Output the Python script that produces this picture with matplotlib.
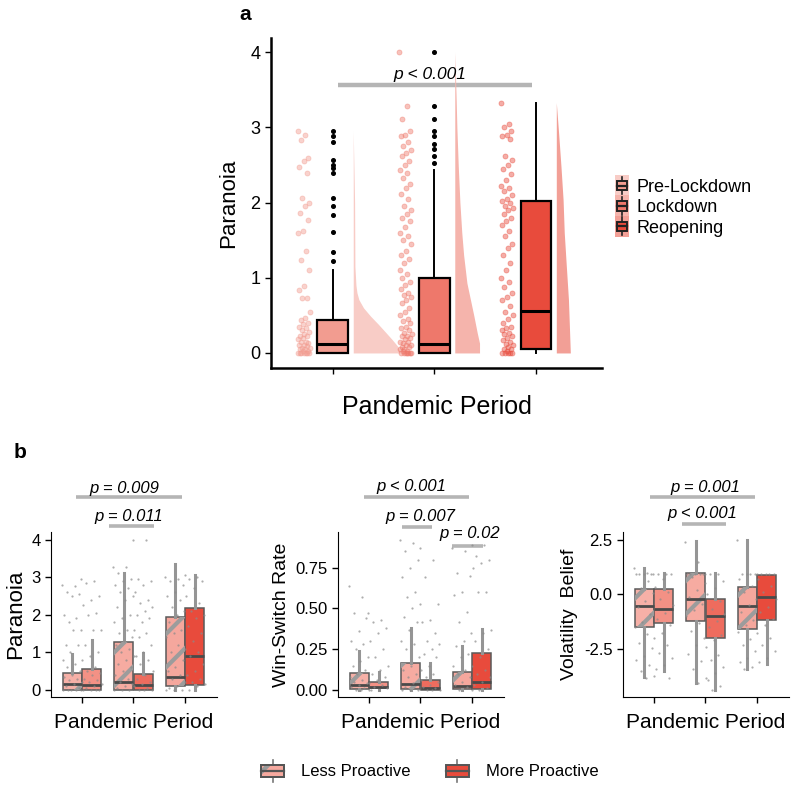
import matplotlib
matplotlib.use('Agg')
import matplotlib.pyplot as plt
import numpy as np
from matplotlib.patches import Rectangle, Patch
from matplotlib.lines import Line2D
from matplotlib.legend_handler import HandlerBase

plt.rcParams['font.family'] = ['Liberation Sans', 'DejaVu Sans']
plt.rcParams['hatch.linewidth'] = 3.0

periods = ['Pre-Lockdown', 'Lockdown', 'Reopening']
groups = ['Less Proactive', 'More Proactive']

# ---- panel a: paranoia by period ----
a_q1 = [0.0, 0.0, 0.05]
a_med = [0.12, 0.12, 0.56]
a_q3 = [0.44, 1.0, 2.02]
a_wlo = [0.0, 0.0, 0.0]
a_whi = [1.11, 2.44, 3.33]
a_out = [
    [1.22, 1.34, 1.61, 1.84, 1.96, 2.06, 2.39, 2.46, 2.5, 2.57, 2.81, 2.88, 2.95],
    [2.53, 2.62, 2.71, 2.78, 2.88, 2.95, 3.11, 3.28, 4.0],
    [],
]
a_pts = [
    [2.95, 2.9, 2.83, 2.6, 2.55, 2.48, 2.4, 2.06, 2.0, 1.95, 1.86, 1.77, 1.62, 1.6, 1.35,
     1.24, 1.1, 0.89, 0.84, 0.73, 0.73, 0.55, 0.47, 0.44, 0.4, 0.38, 0.35, 0.33, 0.3, 0.28,
     0.25, 0.22, 0.22, 0.2, 0.18, 0.15, 0.15, 0.13, 0.11, 0.11, 0.09, 0.07, 0.07, 0.05, 0.05,
     0.03, 0.03, 0.0, 0.0, 0.0, 0.0, 0.0, 0.0, 0.0],
    [4.0, 3.28, 3.11, 2.95, 2.9, 2.88, 2.8, 2.75, 2.7, 2.66, 2.62, 2.55, 2.5, 2.44, 2.4,
     2.33, 2.25, 2.2, 2.12, 2.05, 1.95, 1.9, 1.85, 1.8, 1.75, 1.68, 1.6, 1.55, 1.5, 1.45,
     1.35, 1.3, 1.25, 1.2, 1.1, 1.05, 1.0, 0.95, 0.9, 0.85, 0.8, 0.77, 0.75, 0.7, 0.66,
     0.6, 0.55, 0.5, 0.45, 0.42, 0.4, 0.35, 0.33, 0.3, 0.27, 0.25, 0.22, 0.22, 0.2, 0.18,
     0.15, 0.15, 0.13, 0.11, 0.1, 0.08, 0.08, 0.05, 0.05, 0.03, 0.03, 0.0, 0.0, 0.0, 0.0,
     0.0, 0.0, 0.0],
    [3.33, 3.05, 3.0, 2.95, 2.9, 2.88, 2.85, 2.62, 2.57, 2.5, 2.45, 2.38, 2.3, 2.22, 2.2,
     2.15, 2.1, 2.05, 2.02, 2.0, 1.95, 1.93, 1.9, 1.85, 1.8, 1.75, 1.7, 1.62, 1.55, 1.45,
     1.4, 1.3, 1.2, 1.1, 1.0, 0.95, 0.88, 0.8, 0.75, 0.7, 0.62, 0.55, 0.5, 0.45, 0.4,
     0.35, 0.33, 0.3, 0.27, 0.25, 0.22, 0.2, 0.17, 0.15, 0.12, 0.1, 0.08, 0.05, 0.05, 0.03,
     0.0, 0.0, 0.0, 0.0, 0.0],
]
# half-violin densities (relative), read at these paranoia levels
a_dens_y = [
    [0, 0.04, 0.09, 0.18, 0.27, 0.38, 0.49, 0.6, 0.71, 0.8, 0.9, 1.15, 2.0, 2.95],
    [0, 0.13, 0.27, 0.49, 0.93, 1.3, 1.6, 2.0, 2.48, 3.0, 3.37, 4.0],
    [0, 0.27, 0.71, 1.15, 1.6, 2.04, 2.48, 2.92, 3.33],
]
a_dens = [
    [1.0, 0.985, 0.95, 0.83, 0.70, 0.54, 0.37, 0.22, 0.12, 0.08, 0.058, 0.036, 0.029, 0.0],
    [0.53, 0.53, 0.48, 0.41, 0.26, 0.19, 0.15, 0.11, 0.075, 0.045, 0.03, 0.0],
    [0.30, 0.285, 0.26, 0.215, 0.17, 0.145, 0.10, 0.05, 0.0],
]

# ---- panel b: order = pre less, pre more, lock less, lock more, reop less, reop more ----
par_q1 = [0.0, 0.0, 0.0, 0.0, 0.09, 0.13]
par_med = [0.16, 0.12, 0.22, 0.13, 0.35, 0.9]
par_q3 = [0.44, 0.56, 1.28, 0.42, 1.95, 2.19]
par_lo = [0.0, 0.0, 0.0, 0.0, 0.0, 0.0]
par_hi = [0.95, 1.33, 3.12, 0.99, 3.35, 3.05]
par_pts = [
    [2.8, 2.75, 2.6, 2.55, 2.5, 2.0, 1.9, 1.8, 1.6, 1.6, 1.2, 1.2, 1.0, 0.8, 0.7, 0.6,
     0.5, 0.4, 0.35, 0.3, 0.25, 0.2, 0.15, 0.1, 0.05, 0, 0, 0, 0, 0],
    [2.95, 2.9, 2.85, 2.5, 2.4, 2.25, 2.05, 2.0, 1.6, 1.6, 1.2, 1.0, 0.9, 0.8, 0.6, 0.5,
     0.45, 0.4, 0.3, 0.25, 0.2, 0.15, 0.1, 0.05, 0, 0, 0, 0],
    [3.27, 3.27, 3.1, 2.95, 2.9, 2.8, 2.7, 2.6, 2.5, 2.4, 2.2, 2.0, 1.9, 1.8, 1.6, 1.5,
     1.4, 1.3, 1.2, 1.1, 1.0, 0.9, 0.8, 0.7, 0.6, 0.5, 0.4, 0.3, 0.2, 0.15, 0.1, 0.05, 0, 0, 0],
    [4.0, 4.0, 2.95, 2.9, 2.8, 2.6, 2.4, 2.3, 2.2, 2.1, 2.0, 1.9, 1.8, 1.6, 1.5, 1.4, 1.2,
     1.0, 0.9, 0.8, 0.7, 0.5, 0.4, 0.3, 0.2, 0.15, 0.1, 0.05, 0, 0, 0],
    [3.0, 2.95, 2.9, 2.8, 2.6, 2.5, 2.4, 2.2, 2.1, 2.0, 1.8, 1.6, 1.5, 1.4, 1.2, 1.0, 0.8,
     0.6, 0.5, 0.4, 0.3, 0.2, 0.1, 0.05, 0, 0, 0],
    [3.05, 3.0, 2.95, 2.9, 2.7, 2.5, 2.3, 2.1, 2.0, 1.9, 1.7, 1.5, 1.3, 1.1, 1.0, 0.9, 0.7,
     0.5, 0.4, 0.3, 0.2, 0.15, 0.1, 0],
]

win_q1 = [0.004, 0.01, 0.004, 0.002, 0.004, 0.004]
win_med = [0.03, 0.02, 0.037, 0.014, 0.024, 0.051]
win_q3 = [0.106, 0.051, 0.163, 0.061, 0.112, 0.229]
win_lo = [0.0, 0.0, 0.0, 0.0, 0.0, 0.0]
win_hi = [0.24, 0.11, 0.378, 0.163, 0.27, 0.373]
win_pts = [
    [0.64, 0.57, 0.47, 0.44, 0.36, 0.3, 0.28, 0.25, 0.2, 0.18, 0.15, 0.12, 0.1, 0.08, 0.06,
     0.05, 0.04, 0.03, 0.02, 0.01, 0, 0, 0],
    [0.47, 0.43, 0.42, 0.38, 0.35, 0.3, 0.25, 0.2, 0.15, 0.12, 0.1, 0.08, 0.06, 0.04, 0.03,
     0.02, 0.01, 0, 0],
    [0.92, 0.9, 0.85, 0.8, 0.75, 0.69, 0.6, 0.57, 0.53, 0.5, 0.45, 0.42, 0.37, 0.3, 0.28,
     0.25, 0.2, 0.15, 0.12, 0.1, 0.08, 0.06, 0.04, 0.02, 0, 0, 0],
    [0.87, 0.8, 0.69, 0.53, 0.43, 0.42, 0.35, 0.3, 0.28, 0.25, 0.22, 0.2, 0.15, 0.12, 0.1,
     0.08, 0.05, 0.03, 0.02, 0.01, 0, 0, 0],
    [0.87, 0.85, 0.72, 0.7, 0.6, 0.58, 0.48, 0.42, 0.35, 0.3, 0.27, 0.22, 0.2, 0.15, 0.12,
     0.1, 0.08, 0.05, 0.03, 0.02, 0, 0],
    [0.89, 0.89, 0.82, 0.8, 0.78, 0.75, 0.6, 0.6, 0.37, 0.35, 0.3, 0.25, 0.2, 0.15, 0.12,
     0.1, 0.08, 0.05, 0.03, 0.01, 0],
]

vol_q1 = [-1.49, -1.31, -1.19, -1.98, -1.59, -1.16]
vol_med = [-0.52, -0.67, -0.2, -0.98, -0.52, -0.12]
vol_q3 = [0.26, 0.26, 1.0, -0.2, 0.34, 0.9]
vol_lo = [-3.75, -3.49, -4.05, -4.36, -3.41, -3.17]
vol_hi = [1.2, 0.98, 2.42, 0.98, 2.5, 0.9]
vol_pts = [
    [1.2, 1.0, 0.95, 0.95, 0.95, 0.95, 0.6, 0.3, 0.05, -0.3, -0.55, -0.9, -1.25, -1.5,
     -1.8, -2.2, -2.45, -2.8, -3.0, -3.2, -3.5, -3.7, -3.8],
    [0.95, 0.95, 0.95, 0.95, 0.7, 0.35, 0.1, -0.2, -0.5, -0.85, -1.1, -1.4, -1.75, -2.0,
     -2.3, -2.65, -2.9, -3.2, -3.4, -3.8],
    [2.4, 1.5, 0.95, 0.95, 0.95, 0.95, 0.95, 0.8, 0.5, 0.2, -0.1, -0.45, -0.7, -1.0, -1.3,
     -1.65, -2.0, -2.3, -2.7, -3.05, -3.4, -3.8, -4.05],
    [0.95, 0.95, 0.95, 0.6, 0.3, 0.0, -0.3, -0.65, -0.9, -1.2, -1.5, -1.85, -2.1, -2.4,
     -2.75, -3.0, -3.3, -3.6, -3.9, -4.2, -4.35],
    [2.5, 0.95, 0.95, 0.95, 0.95, 0.7, 0.4, 0.1, -0.2, -0.5, -0.8, -1.15, -1.4, -1.7,
     -2.05, -2.3, -2.6, -2.9, -3.1, -3.3, -3.4],
    [0.95, 0.95, 0.95, 0.95, 0.95, 0.7, 0.4, 0.1, -0.2, -0.55, -0.8, -1.1, -1.4, -1.75,
     -2.0, -2.3, -2.6, -2.9, -3.1],
]

sig_par = [(0.88, 2.94, 5.12, 1.82, 5.37, 'p = 0.009'), (1.52, 2.40, 4.37, 1.91, 4.6, 'p = 0.011')]
sig_win = [(0.90, 2.94, 1.184, 1.83, 1.245, 'p < 0.001'), (1.64, 2.22, 1.0, 2.0, 1.067, 'p = 0.007'),
           (2.61, 3.21, 0.883, 2.96, 0.957, 'p = 0.02')]
sig_vol = [(0.92, 2.96, 4.45, 1.99, 4.9, 'p = 0.001'), (1.54, 2.40, 3.22, 1.93, 3.68, 'p < 0.001')]

# colours
a_box_col = ['#F29C90', '#EE786B', '#E84B3C']
a_vio_col = ['#F8CCC6', '#F5B4AC', '#F29F96']
less_col = ['#F6B0A7', '#F6ABA1', '#F5A79D']
more_col = ['#F39185', '#EE6C5E', '#E84B3C']
bar_col = '#B5B5B5'

fig = plt.figure(figsize=(7.93, 7.88), dpi=100)


def jitter(n, half):
    # deterministic spread (golden ratio sequence)
    return ((np.arange(n) * 0.6180339887) % 1 - 0.5) * 2 * half


def classic(ax):
    for s in ['top', 'right']:
        ax.spines[s].set_visible(False)
    ax.tick_params(axis='both', direction='out', length=4, width=1, colors='black', labelsize=12)
    ax.set_xticklabels([])


# ---------- panel a ----------
axa = fig.add_axes([271 / 793, 1 - 368 / 788, 331 / 793, 330 / 788])
centers = np.arange(1, 4)
for i in range(3):
    c = centers[i]
    axa.fill_betweenx(a_dens_y[i], c + 0.2, c + 0.2 + np.array(a_dens[i]) * 0.46,
                      color=a_vio_col[i], lw=0, zorder=1)
    y = np.array(a_pts[i])
    axa.plot(c - 0.285 + jitter(len(y), 0.06), y, 'o', ms=3.6, mfc=a_box_col[i], mec=a_box_col[i],
             alpha=0.45, mew=0.6, zorder=2)
stats = []
for i in range(3):
    stats.append(dict(med=a_med[i], q1=a_q1[i], q3=a_q3[i], whislo=a_wlo[i], whishi=a_whi[i],
                      fliers=a_out[i]))
bp = axa.bxp(stats, positions=centers, widths=0.305, patch_artist=True, showcaps=False,
             boxprops=dict(edgecolor='black', linewidth=1.6),
             medianprops=dict(color='black', linewidth=2.2),
             whiskerprops=dict(color='black', linewidth=1.4),
             flierprops=dict(marker='o', markersize=2.6, markerfacecolor='black',
                             markeredgecolor='black'), zorder=3)
for patch, col in zip(bp['boxes'], a_box_col):
    patch.set_facecolor(col)
axa.plot([1.05, 2.96], [3.57, 3.57], color=bar_col, lw=3.2, solid_capstyle='butt', zorder=0.5)
axa.text(1.955, 3.71, 'p < 0.001', style='italic', fontsize=12.5, ha='center', va='center')
axa.set_xlim(0.39, 3.65)
axa.set_ylim(-0.2, 4.19)
axa.set_yticks([0, 1, 2, 3, 4])
axa.set_xticks(centers)
classic(axa)
axa.tick_params(labelsize=13)
for s in ['left', 'bottom']:
    axa.spines[s].set_linewidth(1.8)
axa.set_ylabel('Paranoia', fontsize=16, labelpad=8)
axa.set_xlabel('Pandemic Period', fontsize=18, labelpad=12)


class BoxKey(HandlerBase):
    def __init__(self, face, edge, whisk, hatch=None, bg=None):
        super().__init__()
        self.face, self.edge, self.whisk, self.hatch, self.bg = face, edge, whisk, hatch, bg

    def create_artists(self, legend, orig_handle, xdescent, ydescent, width, height, fontsize, trans):
        arts = []
        x0, y0 = -xdescent, -ydescent
        if self.bg is not None:
            arts.append(Rectangle((x0, y0 - 0.15 * height), width, height * 1.3, facecolor=self.bg,
                                  lw=0, transform=trans))
        bx, bw = x0 + 0.12 * width, 0.76 * width
        by, bh = y0 + 0.2 * height, 0.6 * height
        cx = x0 + width / 2
        arts.append(Line2D([cx, cx], [y0 - 0.05 * height, y0 + 1.05 * height], color=self.whisk,
                           lw=1.2, transform=trans))
        arts.append(Rectangle((bx, by), bw, bh, facecolor=self.face, edgecolor=self.edge, lw=1.4,
                              transform=trans))
        if self.hatch:
            arts.append(Rectangle((bx, by), bw, bh, facecolor='none', edgecolor='#9A9A9A', lw=0,
                                  hatch=self.hatch, transform=trans))
            arts.append(Rectangle((bx, by), bw, bh, facecolor='none', edgecolor=self.edge, lw=1.4,
                                  transform=trans))
        arts.append(Line2D([bx, bx + bw], [y0 + height / 2] * 2, color=self.edge, lw=1.6,
                           transform=trans))
        return arts


ha = [Patch(label=p) for p in periods]
hmap = {h: BoxKey(a_box_col[i], '#222222', '#222222', bg=a_vio_col[i]) for i, h in enumerate(ha)}
fig.legend(handles=ha, labels=periods, handler_map=hmap, loc='center left',
           bbox_to_anchor=(606 / 793, 1 - 207 / 788), frameon=False, fontsize=13,
           handlelength=0.75, handleheight=1.0, handletextpad=0.45, labelspacing=0.12,
           borderpad=0)

# ---------- panel b ----------
def panel_b(left, q1, med, q3, lo, hi, pts, sig, ylim, yticks, ylabels, ylab, ylab_size):
    ax = fig.add_axes([left / 793, 1 - 697 / 788, 166 / 793, 165 / 788])
    pos = []
    for g in range(3):
        pos += [g + 1 - 0.19, g + 1 + 0.19]
    for k in range(6):
        y = np.array(pts[k])
        ax.plot(pos[k] + jitter(len(y), 0.2), y, 'o', ms=1.6, color='#8A8A8A', alpha=0.7,
                mew=0, zorder=4)
    st = [dict(med=med[k], q1=q1[k], q3=q3[k], whislo=lo[k], whishi=hi[k], fliers=[])
          for k in range(6)]
    bp = ax.bxp(st, positions=pos, widths=0.37, patch_artist=True, showcaps=False,
                showfliers=False,
                boxprops=dict(edgecolor='#5A5A5A', linewidth=1.1),
                medianprops=dict(color='#4A4A4A', linewidth=2.0),
                whiskerprops=dict(color='#959595', linewidth=2.2), zorder=2)
    for k, patch in enumerate(bp['boxes']):
        g = k // 2
        if k % 2 == 0:
            patch.set_facecolor(less_col[g])
            ax.add_patch(Rectangle((pos[k] - 0.185, q1[k]), 0.37, q3[k] - q1[k], facecolor='none',
                                   edgecolor='#9C9C9C', lw=0, hatch='/', zorder=2.05))
        else:
            patch.set_facecolor(more_col[g])
    for x1, x2, yb, xt, yt, txt in sig:
        ax.plot([x1, x2], [yb, yb], color=bar_col, lw=2.6, solid_capstyle='butt', clip_on=False)
        ax.text(xt, yt, txt, style='italic', fontsize=12, ha='center', va='center')
    ax.set_xlim(0.4, 3.62)
    ax.set_ylim(*ylim)
    ax.set_xticks([1, 2, 3])
    ax.set_yticks(yticks)
    classic(ax)
    ax.set_yticklabels(ylabels)
    ax.set_ylabel(ylab, fontsize=ylab_size, labelpad=4)
    ax.set_xlabel('Pandemic Period', fontsize=15, labelpad=4)
    return ax


panel_b(51, par_q1, par_med, par_q3, par_lo, par_hi, par_pts, sig_par, (-0.19, 4.2),
        [0, 1, 2, 3, 4], ['0', '1', '2', '3', '4'], 'Paranoia', 16)
panel_b(338, win_q1, win_med, win_q3, win_lo, win_hi, win_pts, sig_win, (-0.043, 0.969),
        [0, 0.25, 0.5, 0.75], ['0.00', '0.25', '0.50', '0.75'], 'Win-Switch Rate', 14)
panel_b(623, vol_q1, vol_med, vol_q3, vol_lo, vol_hi, vol_pts, sig_vol, (-4.68, 2.85),
        [-2.5, 0, 2.5], ['-2.5', '0.0', '2.5'], 'Volatility  Belief', 14)

hb = [Patch(label=g) for g in groups]
hmap_b = {hb[0]: BoxKey('#F6A99F', '#555555', '#777777', hatch='/'),
          hb[1]: BoxKey('#E84B3C', '#555555', '#777777')}
fig.legend(handles=hb, labels=groups, handler_map=hmap_b, loc='center',
           bbox_to_anchor=(428 / 793, 1 - 771 / 788), ncol=2, frameon=False, fontsize=12,
           handlelength=1.8, handleheight=1.5, handletextpad=0.8, columnspacing=1.9)

fig.text(245 / 793, 1 - 15 / 788, 'a', fontsize=15, fontweight='bold', ha='center', va='center')
fig.text(20 / 793, 1 - 452 / 788, 'b', fontsize=15, fontweight='bold', ha='center', va='center')

fig.savefig('out.png', dpi=100)
